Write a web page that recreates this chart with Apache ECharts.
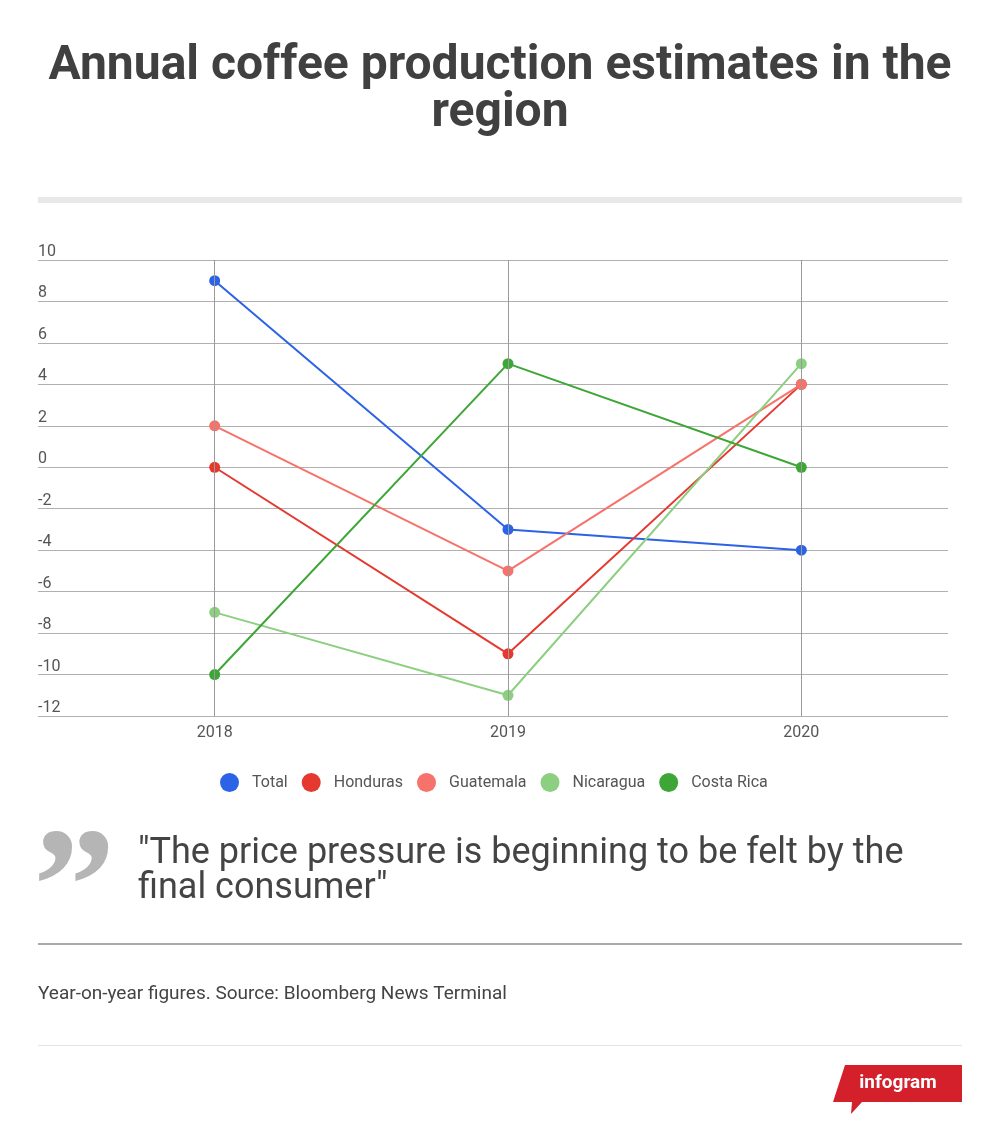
<!DOCTYPE html>
<html>
<head>
<meta charset="utf-8">
<script src="https://cdn.jsdelivr.net/npm/echarts@6/dist/echarts.min.js"></script>
<style>
html,body{margin:0;padding:0;background:#fff;}
#c{width:1000px;height:1135px;}
</style>
</head>
<body>
<div id="c"></div>
<script>
const categories = ['2018', '2019', '2020'];
const seriesNames = ['Total', 'Honduras', 'Guatemala', 'Nicaragua', 'Costa Rica'];
const total = [9, -3, -4];
const honduras = [0, -9, 4];
const guatemala = [2, -5, 4];
const nicaragua = [-7, -11, 5];
const costaRica = [-10, 5, 0];
const colors = ['#2c63e6', '#e5392f', '#f6726a', '#8dcf80', '#3ea636'];
const yMin = -12, yMax = 10, yStep = 2;

const values = [total, honduras, guatemala, nicaragua, costaRica];
const FONT = 'Roboto';

const chart = echarts.init(document.getElementById('c'), null, {renderer: 'canvas'});

const lineSeries = seriesNames.map((name, i) => ({
  name: name,
  type: 'line',
  xAxisIndex: 1,
  yAxisIndex: 1,
  data: values[i],
  symbol: 'circle',
  symbolSize: 11,
  showSymbol: true,
  lineStyle: {width: 2, color: colors[i]},
  itemStyle: {color: colors[i]},
  emphasis: {disabled: true},
  z: 3
}));

lineSeries.unshift({
  name: '__grid',
  type: 'line',
  xAxisIndex: 1,
  yAxisIndex: 1,
  data: [],
  silent: true,
  markLine: {
    silent: true,
    symbol: ['none', 'none'],
    label: {show: false},
    lineStyle: {color: '#9a9a9a', width: 1, type: 'solid'},
    emphasis: {disabled: true},
    data: categories.map(c => ({xAxis: c}))
  },
  z: 1
});

const option = {
  animation: false,
  backgroundColor: '#ffffff',
  color: colors,
  legend: {
    data: seriesNames,
    top: 768,
    left: 215,
    icon: 'circle',
    itemWidth: 19,
    itemHeight: 19,
    itemGap: 14,
    selectedMode: false,
    textStyle: {
      fontFamily: FONT,
      fontSize: 16,
      color: '#555555',
      padding: [0, 0, 0, 8]
    }
  },
  grid: [
    {left: 38, right: 52, top: 260, bottom: 419, containLabel: false},
    {left: 68, right: 52, top: 260, bottom: 419, containLabel: false}
  ],
  xAxis: [
    {type: 'value', gridIndex: 0, show: false, min: 0, max: 1},
    {
      type: 'category',
      gridIndex: 1,
      data: categories,
      boundaryGap: true,
      axisLine: {show: false},
      axisTick: {show: false},
      splitLine: {show: false},
      axisLabel: {
        margin: 9,
        fontFamily: FONT,
        fontSize: 16,
        color: '#555555'
      }
    }
  ],
  yAxis: [
    {
      type: 'value',
      gridIndex: 0,
      min: yMin,
      max: yMax,
      interval: yStep,
      axisLine: {show: false},
      axisTick: {show: false},
      splitLine: {show: true, lineStyle: {color: '#b0b0b0', width: 1}},
      axisLabel: {
        inside: true,
        margin: 0,
        align: 'left',
        verticalAlign: 'bottom',
        padding: [0, 0, 0, 0],
        fontFamily: FONT,
        fontSize: 16,
        color: '#555555'
      }
    },
    {
      type: 'value',
      gridIndex: 1,
      min: yMin,
      max: yMax,
      interval: yStep,
      show: false,
      splitLine: {show: false}
    }
  ],
  series: lineSeries,
  graphic: [
    {
      type: 'text', x: 500, y: 43, silent: true,
      style: {
        text: 'Annual coffee production estimates in the\nregion',
        font: 'bold 48px Roboto', fill: '#404040', align: 'center', verticalAlign: 'top', lineHeight: 47
      }
    },
    {type: 'rect', shape: {x: 38, y: 197, width: 924, height: 6}, style: {fill: '#e8e8e8'}, silent: true},
    {
      type: 'text', x: 33, y: 816, silent: true,
      style: {text: '\u201D', font: 'bold 165px "Liberation Serif"', fill: '#b5b5b5', verticalAlign: 'top'}
    },
    {
      type: 'text', x: 138, y: 836, silent: true,
      style: {
        text: '"The price pressure is beginning to be felt by the\nfinal consumer"',
        font: '36px Roboto', fill: '#444444', lineHeight: 35, verticalAlign: 'top'
      }
    },
    {type: 'rect', shape: {x: 38, y: 943, width: 924, height: 2}, style: {fill: '#a9a9a9'}, silent: true},
    {
      type: 'text', x: 38, y: 985, silent: true,
      style: {text: 'Year-on-year figures. Source: Bloomberg News Terminal', font: '19px Roboto', fill: '#444444', verticalAlign: 'top'}
    },
    {type: 'rect', shape: {x: 38, y: 1045, width: 924, height: 1}, style: {fill: '#e4e4e4'}, silent: true},
    {
      type: 'polygon', silent: true,
      shape: {points: [[845, 1065], [962, 1065], [962, 1102], [862, 1102], [851, 1114], [852, 1102], [833, 1102]]},
      style: {fill: '#d3202a'}
    },
    {
      type: 'text', silent: true, x: 898, y: 1083,
      style: {text: 'infogram', font: 'bold 19px Roboto', fill: '#ffffff', align: 'center', verticalAlign: 'middle'}
    }
  ]
};

chart.setOption(option);
</script>
</body>
</html>
